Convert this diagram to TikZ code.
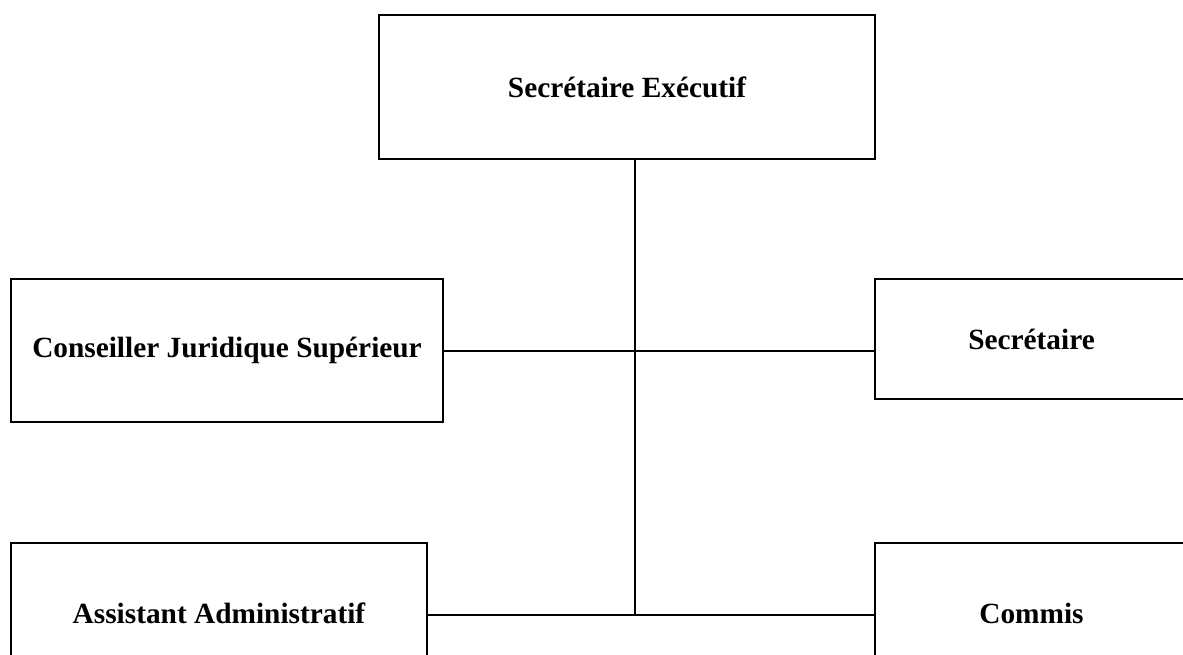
\documentclass[tikz,border=0pt]{standalone}
\usepackage{fontspec}
\setmainfont{Liberation Serif}
\begin{document}
\begin{tikzpicture}[x=0.75pt,y=-0.75pt,
  orgbox/.style={draw=black,line width=1.5pt,inner sep=0pt,font=\fontsize{22}{26}\selectfont\bfseries},
  link/.style={draw=black,line width=1.5pt}]
\clip (0,0) rectangle (1183,655);
\node[orgbox,minimum width=372pt,minimum height=108pt] (se) at (627,87) {Secrétaire Exécutif};
\node[orgbox,minimum width=324pt,minimum height=107.25pt] (cjs) at (227,350.5) {Conseiller Juridique Supérieur};
\node[orgbox,minimum width=234.75pt,minimum height=90pt] (sec) at (1031.5,339) {Secrétaire};
\node[orgbox,minimum width=312pt,minimum height=105pt] (aa) at (219,613) {Assistant Administratif};
\node[orgbox,minimum width=234.75pt,minimum height=105pt] (cm) at (1031.5,613) {Commis};
\coordinate (j) at (635,615);
\coordinate (m) at (635,351);
\draw[link] (se.south -| j) -- (j);
\draw[link] (cjs.east |- m) -- (sec.west |- m);
\draw[link] (aa.east |- j) -- (cm.west |- j);
\end{tikzpicture}
\end{document}
